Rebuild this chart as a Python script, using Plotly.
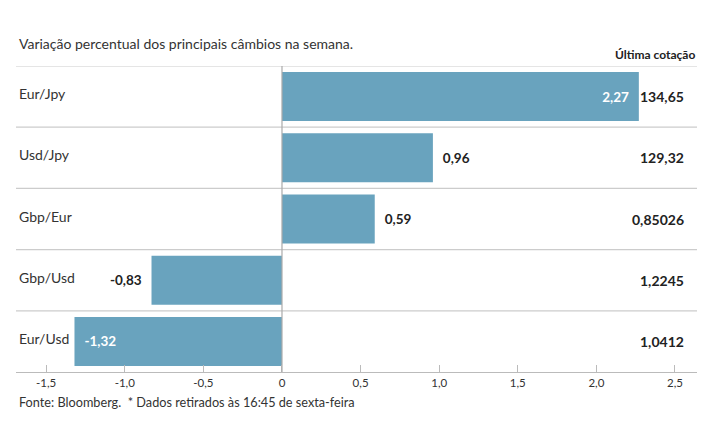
import plotly.graph_objects as go

categories = ["Eur/Jpy", "Usd/Jpy", "Gbp/Eur", "Gbp/Usd", "Eur/Usd"]
variation = [2.27, 0.96, 0.59, -0.83, -1.32]
value_labels = ["2,27", "0,96", "0,59", "-0,83", "-1,32"]
last_quote = ["134,65", "129,32", "0,85026", "1,2245", "1,0412"]
tick_vals = [-1.5, -1.0, -0.5, 0, 0.5, 1.0, 1.5, 2.0, 2.5]
tick_text = ["-1,5", "-1,0", "-0,5", "0", "0,5", "1,0", "1,5", "2,0", "2,5"]

FONT = "Lato"
BAR = "#69a3be"
PAD = "&nbsp;&nbsp;"

positions = ["inside" if abs(v) > 1.2 else "outside" for v in variation]
templates = []
for v, p in zip(variation, positions):
    if (v >= 0) == (p == "outside"):
        templates.append(PAD + "<b>%{text}</b>")
    else:
        templates.append("<b>%{text}</b>" + PAD)

fig = go.Figure(go.Bar(
    y=categories, x=variation, orientation="h",
    marker=dict(color=BAR, line=dict(width=0)),
    width=0.8,
    text=value_labels, textposition=positions,
    insidetextanchor="end",
    insidetextfont=dict(color="white", size=13.5, family=FONT),
    outsidetextfont=dict(color="#222", size=13.5, family=FONT),
    texttemplate=templates,
    cliponaxis=False,
    hoverinfo="skip",
))

shapes = []
for i in range(len(categories)):
    shapes.append(dict(type="line", xref="paper", x0=0, x1=1, yref="y",
                       y0=i - 0.5, y1=i - 0.5, line=dict(color="#cccccc", width=1.2),
                       layer="below"))
shapes.append(dict(type="line", xref="x", x0=0, x1=0, yref="paper", y0=0, y1=1,
                   line=dict(color="#aaaaaa", width=1.2), layer="above"))

annotations = []
for c, q in zip(categories, last_quote):
    annotations.append(dict(x=0, xref="paper", y=c, yref="y", text=c, showarrow=False,
                            xanchor="left", xshift=1, yshift=3,
                            font=dict(family=FONT, size=14, color="#333")))
    annotations.append(dict(x=0.984, xref="paper", y=c, yref="y", text="<b>%s</b>" % q,
                            showarrow=False, xanchor="right",
                            font=dict(family=FONT, size=14, color="#222")))
annotations.append(dict(x=1, xref="paper", y=1, yref="paper", yshift=2, text="<b>Última cotação</b>",
                        showarrow=False, xanchor="right", yanchor="bottom",
                        font=dict(family=FONT, size=12, color="#222")))
annotations.append(dict(x=0, xref="paper", y=1, yref="paper", yshift=12,
                        text="Variação percentual dos principais câmbios na semana.",
                        showarrow=False, xanchor="left", yanchor="bottom", xshift=1,
                        font=dict(family=FONT, size=14, color="#333")))
annotations.append(dict(x=0, xref="paper", y=0, yref="paper", yshift=-20,
                        text="Fonte: Bloomberg.  * Dados retirados às 16:45 de sexta-feira",
                        showarrow=False, xanchor="left", yanchor="top", xshift=1,
                        font=dict(family=FONT, size=12.7, color="#333")))

fig.update_layout(
    width=707, height=437,
    margin=dict(l=8, r=18, t=58, b=73),
    paper_bgcolor="white", plot_bgcolor="white",
    showlegend=False,
    font=dict(family=FONT, color="#333"),
    shapes=shapes, annotations=annotations,
    xaxis=dict(range=[-1.692, 2.64], tickvals=tick_vals, ticktext=tick_text,
               showgrid=False, zeroline=False, showline=True, linecolor="#bbbbbb",
               linewidth=1.2, ticks="inside", ticklen=7, tickcolor="#bbbbbb",
               tickfont=dict(family=FONT, size=11.5, color="#333"), fixedrange=True),
    yaxis=dict(categoryorder="array", categoryarray=categories, range=[4.5, -0.5],
               showticklabels=False, showgrid=False, zeroline=False, fixedrange=True),
)

fig.write_html("out.html")
